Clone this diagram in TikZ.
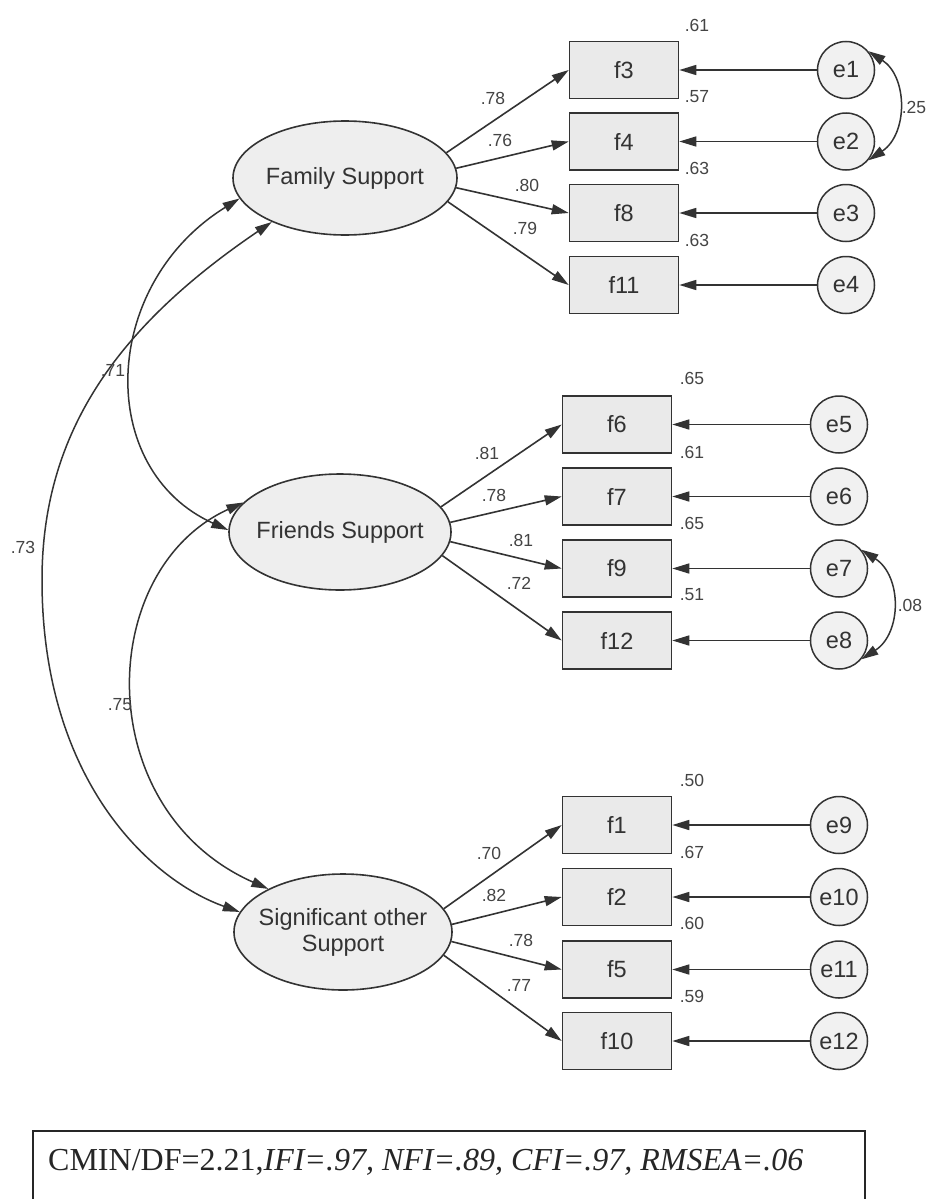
\documentclass[tikz,border=0pt]{standalone}
\usepackage{fontspec}
\setmainfont{Liberation Sans}
\newfontfamily\timesfont{Liberation Serif}
\usetikzlibrary{arrows.meta,shapes.geometric}
\definecolor{linec}{HTML}{333333}
\definecolor{txtc}{HTML}{333333}
\definecolor{numc}{HTML}{444444}
\definecolor{latfill}{HTML}{EEEEEE}
\definecolor{obsfill}{HTML}{EAEAEA}
\definecolor{errfill}{HTML}{F1F1F1}
\tikzset{
  lat/.style={ellipse, draw=linec, line width=1.6pt, fill=latfill, inner xsep=-30pt, inner ysep=0pt,
    text=txtc, align=center, font=\fontsize{23.5}{26}\selectfont},
  obs/.style={rectangle, draw=linec, line width=1.6pt, fill=obsfill, inner sep=0pt,
    minimum width=109pt, minimum height=57pt, text=txtc, font=\fontsize{23.5}{26}\selectfont},
  err/.style={circle, draw=linec, line width=1.5pt, fill=errfill, inner sep=0pt,
    minimum size=57pt, text=txtc, font=\fontsize{23.5}{26}\selectfont},
  tip/.tip={Triangle[length=17pt,width=10pt]},
  load/.style={draw=linec, line width=1.6pt, -tip},
  cov/.style={draw=linec, line width=1.5pt, tip-tip},
  num/.style={text=numc, inner sep=0pt, font=\fontsize{17.5}{19}\selectfont},
}
\begin{document}
\begin{tikzpicture}[x=1pt,y=-1pt]
\useasboundingbox (0,0) rectangle (926,1199);
\fill[white] (0,0) rectangle (926,1199);

% latent factors
\node[lat, minimum width=224pt, minimum height=114pt] (fs) at (345,178) {Family Support};
\node[lat, minimum width=222pt, minimum height=116pt] (fr) at (340,532) {Friends Support};
\node[lat, minimum width=218pt, minimum height=116pt] (so) at (343,932) {Significant other\\Support};

% observed items
\node[obs] (f3)  at (624,70)    {f3};
\node[obs] (f4)  at (624,141.5) {f4};
\node[obs] (f8)  at (624,213)   {f8};
\node[obs] (f11) at (624,285)   {f11};
\node[obs] (f6)  at (617,424.5) {f6};
\node[obs] (f7)  at (617,496.5) {f7};
\node[obs] (f9)  at (617,568.5) {f9};
\node[obs] (f12) at (617,640.5) {f12};
\node[obs] (f1)  at (617,825)   {f1};
\node[obs] (f2)  at (617,897)   {f2};
\node[obs] (f5)  at (617,969.5) {f5};
\node[obs] (f10) at (617,1041)  {f10};

% errors
\node[err] (e1)  at (846,70)    {e1};
\node[err] (e2)  at (846,141.5) {e2};
\node[err] (e3)  at (846,213)   {e3};
\node[err] (e4)  at (846,285)   {e4};
\node[err] (e5)  at (839,424.5) {e5};
\node[err] (e6)  at (839,496.5) {e6};
\node[err] (e7)  at (839,568.5) {e7};
\node[err] (e8)  at (839,640.5) {e8};
\node[err] (e9)  at (839,825)   {e9};
\node[err] (e10) at (839,897)   {e10};
\node[err] (e11) at (839,969.5) {e11};
\node[err] (e12) at (839,1041)  {e12};

% loadings
\draw[load] (fs.14) -- (f3.west);
\draw[load] (fs.5) -- (f4.west);
\draw[load] (fs.-5) -- (f8.west);
\draw[load] (fs.-13) -- (f11.west);
\draw[load] (fr.14) -- (f6.west);
\draw[load] (fr.5) -- (f7.west);
\draw[load] (fr.-5) -- (f9.west);
\draw[load] (fr.-13) -- (f12.west);
\draw[load] (so.13) -- (f1.west);
\draw[load] (so.4) -- (f2.west);
\draw[load] (so.-5) -- (f5.west);
\draw[load] (so.-13) -- (f10.west);

% error paths
\foreach \e/\f in {e1/f3,e2/f4,e3/f8,e4/f11,e5/f6,e6/f7,e7/f9,e8/f12,e9/f1,e10/f2,e11/f5,e12/f10}
  \draw[load] (\e.west) -- (\f.east);

% error covariances
\draw[cov] (e1.40) .. controls (908,77) and (908,134) .. (e2.-40);
\draw[cov] (e7.40) .. controls (902,576) and (902,633) .. (e8.-40);

% factor covariances
\coordinate (c73) at (42,580);
\draw[cov] (fs.191) .. controls (100,285) and (95,470) .. (fr.179);
\draw[cov] (fs.211) .. controls (120,325) and (42,430) .. (c73) .. controls (42,780) and (150,880) .. (so.169);
\draw[cov] (fr.163) .. controls (95,570) and (90,810) .. (so.150);

% loading labels
\node[num] (l1) at (493,98) {.78};
\node[num] (l2) at (500,140) {.76};
\node[num] (l3) at (527,185) {.80};
\node[num] (l4) at (525,228) {.79};
\node[num] (l5) at (487,453) {.81};
\node[num] (l6) at (494,495) {.78};
\node[num] (l7) at (521,540) {.81};
\node[num] (l8) at (519,583) {.72};
\node[num] (l9) at (489,853) {.70};
\node[num] (l10) at (494,895) {.82};
\node[num] (l11) at (521,940) {.78};
\node[num] (l12) at (519,985) {.77};

% squared multiple correlations
\node[num] (r3) at (697,25) {.61};
\node[num] (r4) at (697,97) {.57};
\node[num] (r8) at (697,168) {.63};
\node[num] (r11) at (697,240) {.63};
\node[num] (r6) at (692,378) {.65};
\node[num] (r7) at (692,452) {.61};
\node[num] (r9) at (692,523) {.65};
\node[num] (r12) at (692,595) {.51};
\node[num] (r1) at (692,780) {.50};
\node[num] (r2) at (692,852) {.67};
\node[num] (r5) at (692,923) {.60};
\node[num] (r10) at (692,996) {.59};

% covariance labels
\node[num] (k12) at (914,107) {.25};
\node[num] (k78) at (910,605) {.08};
\node[num] (k71) at (113,370) {.71};
\node[num] (k73) at (23,547) {.73};
\node[num] (k75) at (120,705) {.75};

% fit box
\draw[line width=1.2pt, draw=black!85] (33,1199) -- (33,1131) -- (865,1131) -- (865,1199);
\node[anchor=base west, inner sep=0pt, text=black!85, font=\timesfont\fontsize{32}{36}\selectfont] (fit) at (48,1170)
  {CMIN/DF=2.21,\textit{IFI=.97, NFI=.89, CFI=.97, RMSEA=.06}};
\end{tikzpicture}
\end{document}
